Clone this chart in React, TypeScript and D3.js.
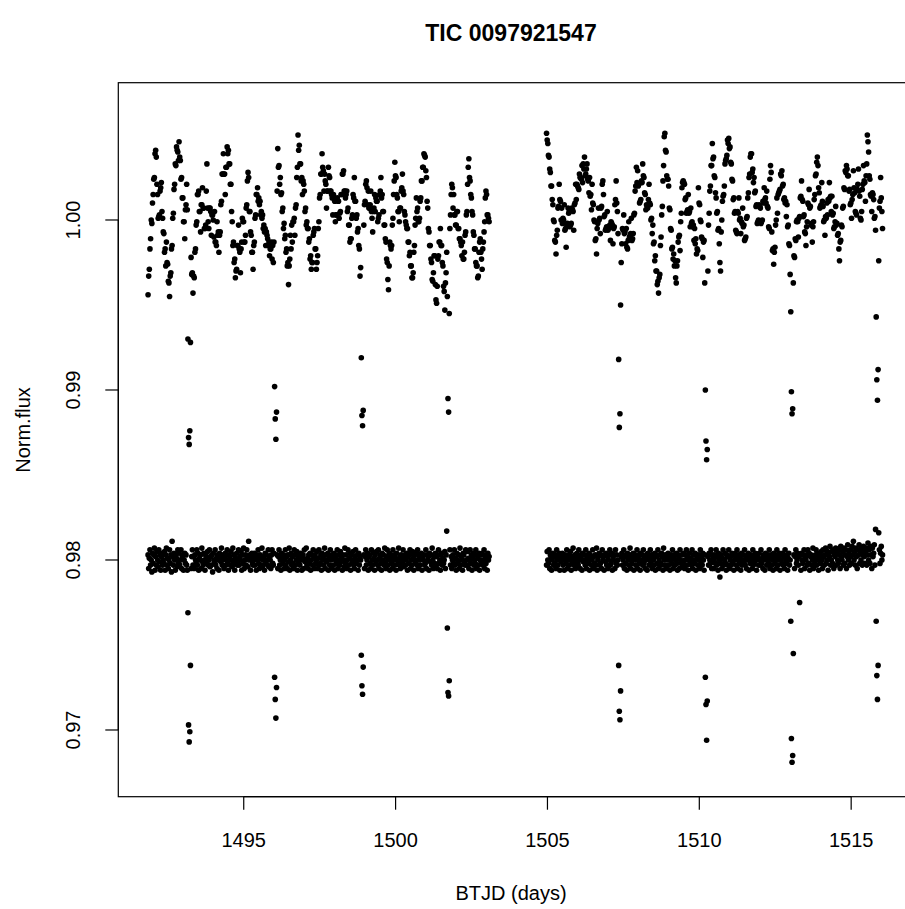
import React from "react";
import * as d3 from "d3";

// ---- data (flux offsets in units of 1e-4) ----
const seg1Start = 1491.85; // BTJD of first cadence, orbit 1
const seg2Start = 1504.97; // BTJD of first cadence, orbit 2
const cadenceDays = 1 / 48; // 30-min FFI cadence

// raw normalised flux, around 1.00 (value = 1 + u/1e4)
const upper1 = [
  -44,-33,-29,-17,-11,0,-2,10,15,24,25,39,41,37,21,15,1,2,3,17,19,22,5,1,
  -7,-8,-19,-17,-27,-13,-25,-26,-36,-37,-45,-33,-31,-17,-15,1,4,18,21,33,32,43,41,40,
  35,46,37,35,24,25,13,13,-1,-1,-11,6,9,21,6,-70,-128,-132,-124,-72,-22,-32,-31,-43,
  -33,-34,-19,-17,-3,-1,15,15,17,5,5,-7,9,9,19,7,7,-5,-5,-3,17,33,7,-1,
  -5,7,7,5,-9,3,3,0,-10,5,-13,-13,-15,-1,-9,-7,-19,-9,-7,9,11,27,27,39,
  27,27,15,31,31,43,39,41,33,33,21,21,5,-1,-15,-13,-25,-23,-34,-30,-29,-15,-15,-3,
  -17,-19,-31,-17,-13,1,-1,-1,-13,-13,-9,7,9,23,28,25,5,5,-7,-9,-19,-19,-29,-15,
  -13,1,3,15,15,19,11,13,9,11,3,5,1,3,-5,-3,-7,-5,-15,-7,-9,-11,-15,-13,
  -21,-17,-17,-13,-23,-15,-25,-13,-98,-117,-129,-113,17,42,31,32,21,25,15,16,5,7,-5,-2,
  -11,-9,-19,-17,-27,-25,-38,-27,-23,-9,-17,-3,-13,-1,-1,1,-9,7,9,25,31,50,41,44,
  33,33,23,25,15,23,21,17,5,7,-3,-1,-5,-5,-13,-11,-23,-21,-29,-25,-25,-9,-7,-5,
  -17,-17,-29,-25,-21,-5,-1,13,15,27,27,39,31,29,17,27,23,21,7,17,17,31,26,25,
  17,17,15,13,3,15,13,11,-1,3,3,13,11,11,1,4,5,15,15,27,27,29,17,17,
  13,15,17,5,7,-3,-3,-13,-11,-11,1,3,15,13,25,11,11,1,3,-7,-5,-15,-17,-33,
  -28,-81,-115,-121,-112,-3,9,11,21,23,19,9,17,7,7,9,17,5,1,-7,5,7,15,5,
  13,11,11,-1,1,3,15,17,25,13,15,5,5,-3,-3,-11,-13,-23,-25,-35,-41,-27,-13,-15,
  -17,-15,-3,1,15,23,34,26,25,15,13,5,5,-1,7,7,17,19,27,17,15,5,3,-1,
  -3,-5,-5,-13,-13,-21,-19,-27,-27,-34,-34,-31,-19,-15,-3,1,13,5,7,-1,-1,1,11,13,
  23,23,31,31,39,38,37,29,25,11,7,-5,-7,-15,-15,-23,-25,-35,-36,-31,-21,-21,-38,-47,
  -49,-39,-23,-21,-13,-13,-5,-15,-15,-25,-27,-39,-42,-53,-37,-31,-19,-45,-105,-113,-55,-5,3,15,
  21,19,7,15,3,3,-3,-3,5,5,-5,-5,-11,-11,-13,-15,-21,-13,-23,-23,-19,-9,-7,3,
  5,21,31,36,25,23,15,13,5,3,-7,-9,-17,-17,-25,-27,-27,-34,-33,-19,-13,-11,-19,-23,
  -29,-17,-13,-7,-1,13,17,15,3,3,1,-1,
];

const upper2 = [
  51,47,45,38,37,30,28,20,20,12,9,0,-1,-12,-13,-20,-9,-6,7,8,21,12,11,0,
  7,-2,1,0,9,-6,-5,-16,-3,-2,7,4,5,-4,-3,-2,7,6,5,-6,9,10,21,12,
  21,20,19,18,27,25,25,24,32,22,33,30,37,26,27,30,33,24,23,16,25,14,15,6,
  21,10,9,0,-1,-12,-11,-20,-5,-2,7,0,1,-8,7,8,21,23,15,2,3,-6,-5,-4,
  5,-6,-5,-4,-3,-12,-1,-2,-3,-14,-5,-4,9,12,23,10,5,-8,-82,-122,-114,-50,-25,-14,
  -5,-6,3,-8,-7,-14,-5,-16,-17,-12,-1,-10,-9,-8,1,-12,-11,-8,3,4,17,20,31,22,
  29,20,21,10,11,12,23,22,33,26,25,16,15,6,9,8,7,12,21,10,9,0,1,-8,
  -3,-14,-13,-24,-21,-30,-30,-38,-36,-43,-34,-32,-15,-10,3,8,23,32,49,51,41,40,26,24,
  24,20,7,6,-5,-6,-17,-16,-23,-20,-27,-24,-34,-37,-27,-24,-13,-10,-9,-18,-1,4,19,22,
  23,22,21,12,13,4,5,6,15,4,5,-4,7,-2,-1,-4,-3,-12,-5,-14,-11,-20,-17,-18,
  19,10,9,0,-1,-10,-11,-22,-13,-12,-37,-100,-130,-141,-135,-30,-3,4,17,20,32,32,45,36,
  37,26,25,16,13,4,5,-6,-5,-14,-25,-30,-7,0,11,14,15,20,33,35,36,38,47,45,
  48,42,43,34,33,24,23,12,13,4,5,-6,-7,-8,5,4,13,0,1,-8,-1,-2,7,-4,
  -3,-12,-11,-10,1,2,13,16,25,27,37,39,39,28,30,22,25,16,17,8,9,-2,-1,0,
  9,8,7,-2,-1,0,11,10,19,12,13,10,17,8,7,-4,-5,24,32,28,-7,-18,-17,-26,
  -19,-16,-3,0,13,4,15,16,17,18,27,26,29,20,21,12,13,10,11,2,9,-4,-3,-14,
  -15,-32,-54,-101,-114,-111,-37,-21,-22,-11,-12,-1,0,-1,-10,1,2,13,14,23,12,11,2,3,
  -7,-8,-15,-4,-1,10,9,18,7,8,-3,-2,-13,-4,-1,12,15,26,27,34,37,32,19,16,
  7,8,9,22,11,8,-1,0,-9,2,1,10,3,12,11,22,13,14,5,14,3,4,-5,-4,
  -1,8,-3,-2,-9,-8,-17,-24,-13,-12,-3,-4,7,8,19,18,29,28,32,30,26,26,17,18,
  9,10,1,12,15,29,19,16,5,4,3,18,21,30,17,14,1,0,5,18,21,32,23,22,
  11,26,33,50,46,40,26,24,15,14,5,16,15,12,1,2,-6,-57,-94,-106,-88,-24,7,11,
  25,13,5,-5,
];

// detrended flux, shifted to 0.98 (value = 0.98 + l/1e4)
const lower1 = [
  3,-5,1,6,-3,0,-7,4,-2,3,7,-6,2,-3,5,0,-4,6,-1,3,-6,2,4,-3,
  0,-2,5,-6,3,7,-3,1,-5,0,6,-2,3,-7,11,2,-3,4,0,-6,3,1,-4,6,
  -2,4,-3,0,6,-5,2,3,-6,0,4,-2,3,-3,-6,-31,-97,-107,-101,-62,-5,2,6,-3,
  2,-5,3,0,-2,6,-3,4,-6,1,0,3,-5,7,-1,-3,4,0,-6,3,2,-2,5,-3,
  0,6,-4,2,-3,3,-7,4,0,-2,6,-3,1,-5,3,0,-6,4,2,-1,7,-3,0,3,
  -5,2,4,-3,0,6,-1,-6,3,2,-3,5,0,-4,7,-2,3,-6,1,0,4,-3,-2,6,
  -3,2,0,5,-6,3,-2,7,-5,0,3,-3,6,1,-4,11,0,3,-6,2,4,-2,-3,0,
  4,-3,2,-6,3,0,6,-2,-5,3,1,-3,7,-4,0,2,-6,4,-2,3,0,-3,6,-4,
  2,0,-5,3,6,-2,-3,4,-69,-82,-93,-75,3,-5,2,6,-3,0,-6,4,1,-2,3,-5,
  0,6,-3,2,-5,3,-1,7,-6,0,4,-3,2,-2,-5,6,3,-3,0,5,-6,1,-2,3,
  -3,4,0,-6,2,3,-5,6,-1,0,7,-3,1,-5,3,-2,4,-6,0,3,-3,6,2,-5,
  3,-2,0,5,-5,1,6,-3,-2,3,-6,4,0,2,-3,7,-5,3,-1,0,4,-6,2,-3,
  6,0,-5,3,1,-3,4,-6,0,2,-2,6,-5,3,0,-3,5,-1,2,-6,3,0,-4,7,
  -2,3,-5,0,6,-3,1,4,-6,3,-2,0,5,-3,-5,2,6,-2,0,3,-6,4,-3,2,
  0,-56,-74,-79,-63,3,-5,2,6,-3,0,4,-6,2,3,-2,-5,6,0,-3,4,1,-6,3,
  -2,5,0,-3,6,-5,1,3,-2,-6,4,0,3,-3,7,-1,-5,2,6,-3,0,4,-6,2,
  3,-2,-5,6,0,3,-3,1,-6,4,0,-2,7,-3,2,-5,3,0,-2,6,-4,1,3,-3,
  0,4,-6,2,-2,3,6,-5,0,-3,5,1,-6,3,0,-2,4,-3,6,-5,2,0,-3,3,
  4,-6,2,0,3,-3,-2,6,-5,3,0,2,-6,4,-1,3,-3,7,0,-5,2,-2,4,-3,
  2,-5,3,6,-2,0,-6,3,4,-3,1,-2,0,5,-5,3,17,-40,-78,-80,-71,6,-3,2,
  -5,0,3,-2,6,-3,1,-6,4,0,-2,3,-5,7,-3,2,0,-6,4,3,-2,-3,6,0,
  -3,5,1,-5,0,6,-2,3,-6,2,4,-3,0,-2,6,-5,3,1,-3,4,-6,0,3,-2,
  4,-3,0,6,-5,2,-2,3,-6,4,0,2,
];

const lower2 = [
  -3,5,0,-2,6,-5,3,1,-6,0,4,-3,2,-2,3,-5,6,0,-3,2,4,-6,3,-1,
  0,4,-3,2,-6,3,0,-2,6,-5,1,3,-3,0,5,-6,2,-1,7,-3,0,3,-5,2,
  4,-2,-3,6,0,-5,2,3,-6,4,-1,0,3,-3,6,-5,2,0,-2,4,-6,3,1,-3,
  0,6,-5,2,-2,3,-3,7,-6,0,2,4,-3,-2,3,-5,6,0,2,-6,3,-1,4,-3,
  2,-5,0,3,6,-3,-2,4,-6,2,0,3,-5,6,-2,3,-3,0,-62,-89,-94,-77,2,4,
  -3,0,6,-5,2,-2,3,-6,4,0,-3,2,7,-5,3,-2,0,4,-6,2,3,-3,0,6,
  -5,2,3,-2,-6,4,0,3,-3,6,-2,1,-5,0,3,-6,4,2,-3,0,6,-2,3,-5,
  2,0,-3,4,-6,3,2,-2,6,-5,0,3,-2,-3,4,2,-6,7,0,-3,3,-5,2,0,
  4,-3,2,-6,0,3,-2,6,-5,2,3,-3,0,4,-2,-6,3,1,-5,6,0,-2,3,-3,
  -2,4,-5,0,3,6,-3,2,-6,0,4,-2,1,-3,6,-5,3,0,-2,4,-6,3,2,-3,
  0,3,-5,6,-2,2,-3,4,0,-6,3,-69,-85,-106,-83,2,-3,4,0,-2,6,-5,3,1,
  -5,0,3,-2,6,-3,2,-6,4,0,-10,-2,3,-5,1,6,-3,0,4,-2,-6,3,2,-3,
  6,-5,0,2,-3,4,-2,3,-6,0,4,2,-3,6,-5,0,3,-2,1,-6,4,-3,0,3,
  -2,6,-3,2,-5,0,3,4,-6,2,-2,3,0,-5,6,-3,2,-1,4,0,-6,3,2,-3,
  4,0,-3,6,-2,1,-5,3,0,-6,4,2,-3,0,3,-2,6,-5,2,3,-3,0,-6,4,
  2,-2,3,-5,6,0,-3,2,4,-6,0,3,-2,4,-3,2,-5,6,0,-2,3,-6,1,4,
  -3,0,-36,-105,-119,-115,-55,3,-5,2,6,-2,0,4,-3,2,-25,3,-6,4,0,-2,3,6,
  -5,2,0,3,-3,6,-2,4,-6,2,3,-3,0,7,-5,1,-2,3,6,-3,0,4,-6,2,
  3,-2,5,0,-5,6,2,-3,3,7,-2,0,5,-6,3,2,8,-3,0,5,-2,6,-5,3,
  2,7,-3,5,0,-2,6,3,-5,8,2,0,5,-3,7,-2,3,6,-5,2,9,0,4,-3,
  6,2,-2,8,3,11,0,5,-3,7,2,-5,6,3,9,-2,5,0,7,-3,3,8,2,-2,
  5,7,-3,3,10,0,6,-2,8,3,-5,7,2,4,9,-3,18,-36,-68,-82,-62,16,6,-2,
  4,8,0,3,
];

const xTicks = [1495, 1500, 1505, 1510, 1515];
const yTicks = [0.97, 0.98, 0.99, 1.0];
const yTickLabels = ["0.97", "0.98", "0.99", "1.00"];
const titleText = "TIC 0097921547";
const xLabel = "BTJD (days)";
const yLabel = "Norm.flux";

// ---- layout ----
const W = 905;
const H = 909;
const plotLeft = 118.3;
const plotRight = 911;
const plotTop = 82.7;
const plotBottom = 796.7;
const FONT = "'Liberation Sans', Arial, Helvetica, sans-serif";

type Pt = { t: number; v: number };

function buildSeries(start: number, vals: number[], base: number): Pt[] {
  return vals.map((u, i) => ({ t: start + i * cadenceDays, v: base + u / 1e4 }));
}

export default function App() {
  const x = d3.scaleLinear().domain([1490.87, 1516.97]).range([plotLeft, plotRight]);
  const y = d3.scaleLinear().domain([0.966076, 1.008076]).range([plotBottom, plotTop]);

  const pts: Pt[] = [
    ...buildSeries(seg1Start, upper1, 1.0),
    ...buildSeries(seg2Start, upper2, 1.0),
    ...buildSeries(seg1Start, lower1, 0.98),
    ...buildSeries(seg2Start, lower2, 0.98),
  ];

  const tickLen = 13;
  const labelX = 511;
  const labelY = 430;

  return (
    <div style={{ position: "absolute", left: 0, top: 0 }}>
      <svg width={W} height={H} style={{ display: "block", background: "#fff" }}>
        <rect x={0} y={0} width={W} height={H} fill="#fff" />
        <text
          x={labelX}
          y={41}
          textAnchor="middle"
          fontFamily={FONT}
          fontWeight="bold"
          fontSize={23}
        >
          {titleText}
        </text>
        <g>
          {pts.map((p, i) => (
            <circle key={i} cx={x(p.t)} cy={y(p.v)} r={2.8} fill="#000" />
          ))}
        </g>
        <rect
          x={plotLeft}
          y={plotTop}
          width={plotRight - plotLeft}
          height={plotBottom - plotTop}
          fill="none"
          stroke="#000"
          strokeWidth={1.2}
        />
        {/* x axis */}
        <line
          x1={x(xTicks[0])}
          x2={x(xTicks[xTicks.length - 1])}
          y1={plotBottom}
          y2={plotBottom}
          stroke="#000"
          strokeWidth={1.2}
        />
        {xTicks.map((t) => (
          <g key={t}>
            <line
              x1={x(t)}
              x2={x(t)}
              y1={plotBottom}
              y2={plotBottom + tickLen}
              stroke="#000"
              strokeWidth={1.2}
            />
            <text
              x={x(t)}
              y={846.5}
              textAnchor="middle"
              fontFamily={FONT}
              fontSize={20}
            >
              {String(t)}
            </text>
          </g>
        ))}
        {/* y axis */}
        <line
          x1={plotLeft}
          x2={plotLeft}
          y1={y(yTicks[0])}
          y2={y(yTicks[yTicks.length - 1])}
          stroke="#000"
          strokeWidth={1.2}
        />
        {yTicks.map((v, i) => (
          <g key={v}>
            <line
              x1={plotLeft - tickLen}
              x2={plotLeft}
              y1={y(v)}
              y2={y(v)}
              stroke="#000"
              strokeWidth={1.2}
            />
            <text
              transform={`translate(80,${y(v)}) rotate(-90)`}
              textAnchor="middle"
              fontFamily={FONT}
              fontSize={20}
            >
              {yTickLabels[i]}
            </text>
          </g>
        ))}
        <text
          x={labelX}
          y={900}
          textAnchor="middle"
          fontFamily={FONT}
          fontSize={20}
        >
          {xLabel}
        </text>
        <text
          transform={`translate(30,${labelY}) rotate(-90)`}
          textAnchor="middle"
          fontFamily={FONT}
          fontSize={20}
        >
          {yLabel}
        </text>
      </svg>
    </div>
  );
}
